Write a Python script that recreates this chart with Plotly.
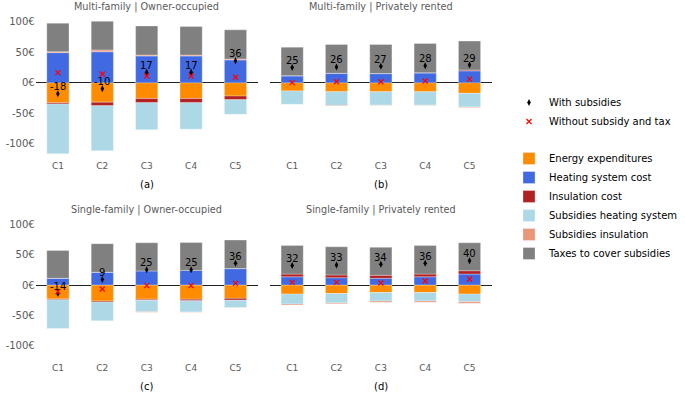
import plotly.graph_objects as go

categories = ["C1", "C2", "C3", "C4", "C5"]
panel_titles = ["Multi-family | Owner-occupied", "Multi-family | Privately rented",
                "Single-family | Owner-occupied", "Single-family | Privately rented"]
panel_letters = ["(a)", "(b)", "(c)", "(d)"]
y_ticks = [-100, -50, 0, 50, 100]
y_tick_labels = ["-100€", "-50€", "0€", "50€", "100€"]

component_names = ["Energy expenditures", "Heating system cost", "Insulation cost",
                   "Subsidies heating system", "Subsidies insulation", "Taxes to cover subsidies"]

# one list per panel (a, b, c, d)
energy = [[-33, -32, -26, -26, -22],
          [-13.5, -15, -15, -15, -17.5],
          [-23, -26.5, -23.5, -23.5, -22],
          [-15, -14, -12.5, -12.5, -15]]
heating = [[49.5, 51, 44, 44, 37.5],
           [11.5, 15.5, 15, 16, 19.5],
           [11, 21, 23, 24, 27],
           [13.5, 12, 11, 13.5, 18]]
insulation = [[-2, -6, -7, -7, -6],
              [0, 0, 0, 0.5, 1.5],
              [-1.5, -1.5, -1.5, -2.5, -3],
              [4.5, 4.5, 5, 4.5, 5.5]]
subs_heating = [[-82, -74, -44.5, -43.5, -24],
                [-22, -22.5, -22, -22, -22.5],
                [-47, -31, -19, -18.5, -12],
                [-16.5, -15.5, -14, -14, -12.5]]
subs_insulation = [[1.5, 3, 1.5, 1.5, 1.5],
                   [0, -1, -0.5, -0.5, -1],
                   [0, 0, -1, -0.5, 0],
                   [-1.5, -1.5, -2, -2, -2.5]]
taxes = [[47, 47, 48, 47, 48],
         [47, 47.5, 48, 48, 47.5],
         [46, 47, 46.5, 46, 47],
         [47, 46.5, 46, 47, 46]]
with_subsidies = [[-18, -10, 17, 17, 36],
                  [25, 26, 27, 28, 29],
                  [-14, 9, 25, 25, 36],
                  [32, 33, 34, 36, 40]]
without_subsidy = [[16.5, 14.3, 11, 11, 9],
                   [0, 1.6, 1.6, 2.8, 6],
                   [-11, -6.6, -1, -1, 2.7],
                   [4.4, 4.4, 3.3, 6.6, 9.9]]

colors = ["#FF8C00", "#4169E1", "#B22222", "#ADD8E6", "#E9967A", "#808080"]
components = [energy, heating, insulation, subs_heating, subs_insulation, taxes]

W, H = 685, 395
FONT = "DejaVu Sans"
GREY = "#5a5a5a"

# pixel layout
x_dom_px = [(35.7, 257.7), (270.0, 491.7), (35.7, 257.7), (270.0, 491.7)]
y_dom_px = [(15.9, 158.6), (15.9, 158.6), (218.2, 360.9), (218.2, 360.9)]
y_range = [-125, 110]

fig = go.Figure()

for p in range(4):
    xa = "x" if p == 0 else f"x{p+1}"
    ya = "y" if p == 0 else f"y{p+1}"
    for c, (name, data) in enumerate(zip(component_names, components)):
        fig.add_trace(go.Bar(
            x=categories, y=data[p], name=name, xaxis=xa, yaxis=ya,
            marker=dict(color=colors[c], line=dict(color="rgba(255,255,255,0.6)", width=0.5)),
            width=0.5, legend="legend2", showlegend=(p == 0), legendgroup=name,
        ))
    fig.add_trace(go.Scatter(
        x=categories, y=with_subsidies[p], mode="markers", name="With subsidies",
        xaxis=xa, yaxis=ya, marker=dict(symbol="diamond-tall", size=5, color="black"),
        legend="legend", showlegend=(p == 0), legendgroup="with",
    ))
    fig.add_trace(go.Scatter(
        x=categories, y=without_subsidy[p], mode="markers", name="Without subsidy and tax",
        xaxis=xa, yaxis=ya,
        marker=dict(symbol="x-thin", size=5, color="red", line=dict(color="red", width=1.2)),
        legend="legend", showlegend=(p == 0), legendgroup="without",
    ))
    for cat, v in zip(categories, with_subsidies[p]):
        fig.add_annotation(x=cat, y=v, xref=xa, yref=ya, text=str(v), showarrow=False,
                           yshift=7, font=dict(family=FONT, size=10, color="black"))

    x0, x1 = x_dom_px[p]
    y0, y1 = y_dom_px[p]
    xdom = [x0 / W, x1 / W]
    ydom = [1 - y1 / H, 1 - y0 / H]
    key = "" if p == 0 else str(p + 1)
    fig.layout["xaxis" + key] = dict(
        domain=xdom, anchor=ya, range=[-0.5, 4.5], showgrid=False, showline=False,
        zeroline=False, ticks="", tickfont=dict(family=FONT, size=9, color=GREY),
        automargin=False,
    )
    fig.layout["yaxis" + key] = dict(
        domain=ydom, anchor=xa, range=y_range, showgrid=False, showline=False,
        zeroline=True, zerolinecolor="#222222", zerolinewidth=1.2,
        tickvals=y_ticks, ticktext=y_tick_labels, showticklabels=(p % 2 == 0),
        ticks="", tickfont=dict(family=FONT, size=10, color=GREY), automargin=False,
    )
    xc = (x0 + x1) / 2 / W
    fig.add_annotation(x=xc, y=1 - (y0 - 8.5) / H, xref="paper", yref="paper",
                       text=panel_titles[p], showarrow=False, xanchor="center", yanchor="middle",
                       font=dict(family=FONT, size=9.7, color=GREY))
    fig.add_annotation(x=xc, y=1 - (y1 + 25.5) / H, xref="paper", yref="paper",
                       text=panel_letters[p], showarrow=False, xanchor="center", yanchor="middle",
                       font=dict(family=FONT, size=10, color="black"))

fig.update_layout(
    width=W, height=H, margin=dict(l=0, r=0, t=0, b=0),
    paper_bgcolor="white", plot_bgcolor="white", barmode="relative",
    font=dict(family=FONT, size=10, color="black"),
    legend=dict(x=509 / W, y=1 - 112 / H, xanchor="left", yanchor="middle",
                bgcolor="rgba(0,0,0,0)", font=dict(family=FONT, size=10, color="black"),
                tracegroupgap=0),
    legend2=dict(x=509 / W, y=1 - 206 / H, xanchor="left", yanchor="middle",
                 bgcolor="rgba(0,0,0,0)", font=dict(family=FONT, size=10, color="black"),
                 tracegroupgap=0, traceorder="normal"),
)

fig.write_html("out.html", config={"displayModeBar": False},
               post_script="document.body.style.margin='0';")
